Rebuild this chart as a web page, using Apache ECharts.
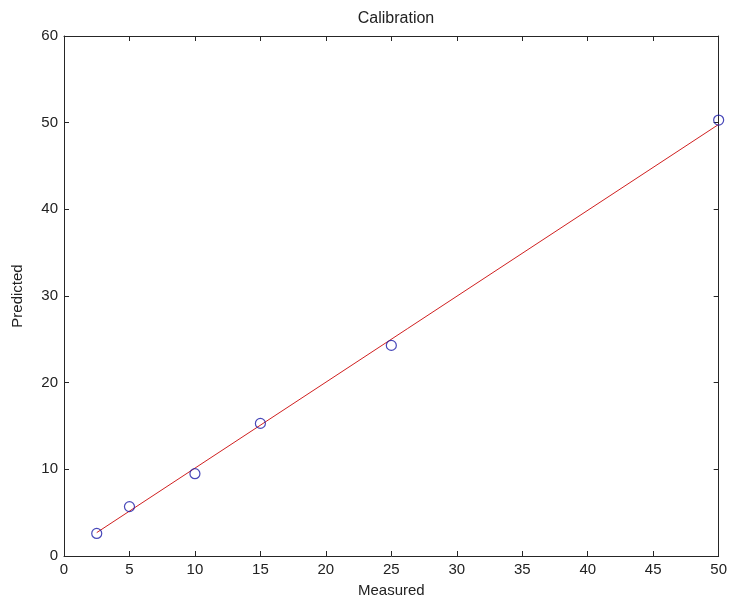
<!DOCTYPE html>
<html><head><meta charset="utf-8">
<script src="https://cdn.jsdelivr.net/npm/echarts@6/dist/echarts.min.js"></script>
<style>html,body{margin:0;padding:0;background:#fff}#c{width:730px;height:603px}</style>
</head><body><div id="c"></div>
<script>
var measured = [2.5, 5, 10, 15, 25, 50];
var predicted = [2.6, 5.7, 9.5, 15.3, 24.3, 50.3];
var fitX = [2.5, 50];
var fitY = [2.7, 49.8];

var chart = echarts.init(document.getElementById('c'));
var font = 'Liberation Sans, Arial, sans-serif';
var axColor = '#262626';
function xa(pos, show) {
  return {type:'value', position:pos, min:0, max:50, interval:5,
    axisLine:{show:true, onZero:false, lineStyle:{color:axColor, width:1}},
    axisTick:{show:true, inside:true, length:5, lineStyle:{color:axColor}},
    axisLabel:{show:show, color:'#222', fontSize:15, fontFamily:font, margin:6},
    splitLine:{show:false},
    name: show ? 'Measured' : '', nameLocation:'middle', nameGap:27,
    nameTextStyle:{color:'#222', fontSize:15, fontFamily:font}};
}
function ya(pos, show) {
  return {type:'value', position:pos, min:0, max:60, interval:10,
    axisLine:{show:true, onZero:false, lineStyle:{color:axColor, width:1}},
    axisTick:{show:true, inside:true, length:5, lineStyle:{color:axColor}},
    axisLabel:{show:show, color:'#222', fontSize:15, fontFamily:font, margin:6},
    splitLine:{show:false},
    name: show ? 'Predicted' : '', nameLocation:'middle', nameGap:39,
    nameTextStyle:{color:'#222', fontSize:15, fontFamily:font}};
}
chart.setOption({
  animation:false,
  backgroundColor:'#fff',
  title:{text:'Calibration', left:391, top:6, textAlign:'center',
    textStyle:{color:'#222', fontSize:16, fontWeight:'normal', fontFamily:font}},
  grid:{left:64, right:11, top:36, bottom:46},
  xAxis:[xa('bottom', true), xa('top', false)],
  yAxis:[ya('left', true), ya('right', false)],
  series:[
    {type:'line', data:fitX.map(function(x,i){return [x, fitY[i]];}),
     showSymbol:false, symbol:'none', lineStyle:{color:'#d02020', width:1}, z:2},
    {type:'scatter', data:measured.map(function(x,i){return [x, predicted[i]];}),
     symbol:'circle', symbolSize:10,
     itemStyle:{color:'rgba(0,0,0,0)', borderColor:'#1a1aa8', borderWidth:1.2}, z:3}
  ]
});
</script></body></html>
